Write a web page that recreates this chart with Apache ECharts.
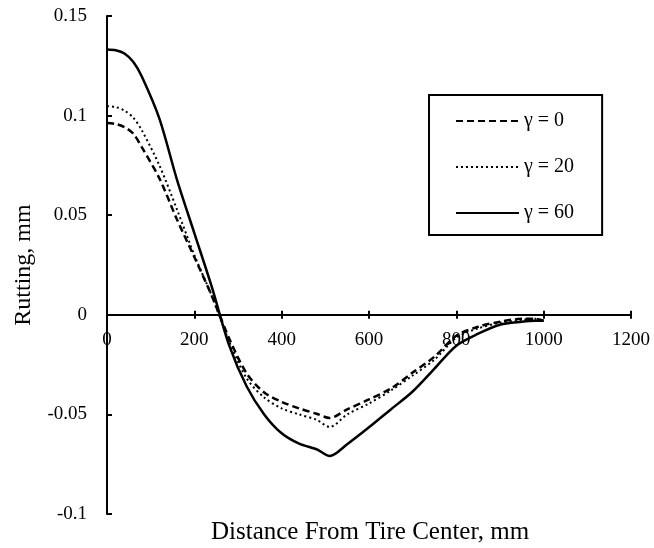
<!DOCTYPE html>
<html>
<head>
<meta charset="utf-8">
<script src="https://cdn.jsdelivr.net/npm/echarts@6/dist/echarts.min.js"></script>
<style>html,body{margin:0;padding:0;background:#fff;}#c{width:654px;height:548px;}</style>
</head>
<body>
<div id="c"></div>
<script>
const distance = [0,20,40,60,80,120,160,200,240,280,320,360,400,440,480,510,550,600,650,700,750,800,850,900,950,980,1000];
const gamma0  = [0.0963,0.0958,0.0942,0.0910,0.0840,0.0685,0.0480,0.0290,0.0095,-0.0120,-0.0295,-0.0390,-0.0437,-0.0470,-0.0497,-0.0518,-0.0475,-0.0425,-0.0370,-0.0290,-0.0210,-0.0105,-0.0060,-0.0035,-0.0020,-0.0020,-0.0030];
const gamma20 = [0.1048,0.1043,0.1025,0.0990,0.0925,0.0750,0.0530,0.0300,0.0095,-0.0135,-0.0320,-0.0415,-0.0470,-0.0500,-0.0527,-0.0563,-0.0500,-0.0445,-0.0380,-0.0305,-0.0225,-0.0115,-0.0068,-0.0040,-0.0025,-0.0020,-0.0030];
const gamma60 = [0.1332,0.1328,0.1312,0.1270,0.1195,0.0985,0.0680,0.0410,0.0140,-0.0155,-0.0360,-0.0500,-0.0595,-0.0647,-0.0675,-0.0709,-0.0650,-0.0565,-0.0475,-0.0385,-0.0270,-0.0155,-0.0095,-0.0050,-0.0035,-0.0030,-0.0030];
const seriesNames = ['\u03b3 = 0','\u03b3 = 20','\u03b3 = 60'];
const xTicks = {min:0,max:1200,interval:200};
const yTicks = {min:-0.1,max:0.15,interval:0.05};
const xTitle = 'Distance From Tire Center, mm';
const yTitle = 'Rutting, mm';

const FONT = 'Liberation Serif';
const pair = arr => distance.map((d,i)=>[d,arr[i]]);
const chart = echarts.init(document.getElementById('c'));
const lineCommon = {type:'line', showSymbol:false, symbol:'none', smooth:0.3, xAxisIndex:0, yAxisIndex:0};
// grid 1 ends exactly at the y = 0 level of grid 0, so its bottom axis sits on zero
const G = {left:107,right:23,top:16,bottom:34,h:548};
const zeroBottom = G.bottom + (0 - yTicks.min)/(yTicks.max - yTicks.min)*(G.h - G.top - G.bottom);
const xCommon = {type:'value', min:xTicks.min, max:xTicks.max, interval:xTicks.interval, splitLine:{show:false}};
chart.setOption({
  animation:false,
  backgroundColor:'#fff',
  title:{text:xTitle,left:211,top:520,padding:0,textStyle:{fontFamily:FONT,fontSize:25,fontWeight:'normal',color:'#000'}},
  grid:[
    {left:G.left,right:G.right,top:G.top,bottom:G.bottom,containLabel:false},
    {left:G.left,right:G.right,top:G.top,bottom:zeroBottom,containLabel:false}
  ],
  legend:{
    orient:'vertical', left:429, top:95,
    padding:[16,28,12,26], itemGap:26, itemWidth:63, itemHeight:14,
    borderColor:'#000', borderWidth:2, backgroundColor:'#fff',
    itemStyle:{color:'rgba(0,0,0,0)',borderWidth:0,opacity:0},
    textStyle:{fontFamily:FONT,fontSize:20,color:'#000'},
    data:seriesNames
  },
  xAxis:[
    Object.assign({},xCommon,{gridIndex:0,show:false}),
    Object.assign({},xCommon,{gridIndex:1,position:'bottom',
      axisLine:{show:true,onZero:false,lineStyle:{color:'#000',width:2}},
      axisTick:{show:true,inside:false,length:4,lineStyle:{color:'#000',width:2}},
      axisLabel:{margin:16,fontFamily:FONT,fontSize:19,color:'#000',formatter:v=>String(v)}}),
    Object.assign({},xCommon,{gridIndex:1,position:'bottom',
      axisLine:{show:false,onZero:false},
      axisTick:{show:true,inside:true,length:4,lineStyle:{color:'#000',width:2}},
      axisLabel:{show:false}})
  ],
  yAxis:[{
    type:'value', gridIndex:0, min:yTicks.min, max:yTicks.max, interval:yTicks.interval,
    name:yTitle, nameLocation:'middle', nameGap:71, nameRotate:90,
    nameTextStyle:{fontFamily:FONT,fontSize:24,color:'#000'},
    axisLine:{show:true,onZero:false,lineStyle:{color:'#000',width:2}},
    axisTick:{show:true,inside:true,length:5,lineStyle:{color:'#000',width:2}},
    axisLabel:{margin:20,fontFamily:FONT,fontSize:19,color:'#000',formatter:v=>String(+v.toFixed(2))},
    splitLine:{show:false}
  },{
    type:'value', gridIndex:1, min:0, max:1, show:false
  }],
  series:[
    Object.assign({},lineCommon,{name:seriesNames[0],data:pair(gamma0),lineStyle:{color:'#000',width:2.5,type:[7,4]},itemStyle:{color:'#000'}}),
    Object.assign({},lineCommon,{name:seriesNames[1],data:pair(gamma20),lineStyle:{color:'#000',width:2,type:[2,3]},itemStyle:{color:'#000'}}),
    Object.assign({},lineCommon,{name:seriesNames[2],data:pair(gamma60),lineStyle:{color:'#000',width:2.5,type:'solid'},itemStyle:{color:'#000'}})
  ]
});
</script>
</body>
</html>
